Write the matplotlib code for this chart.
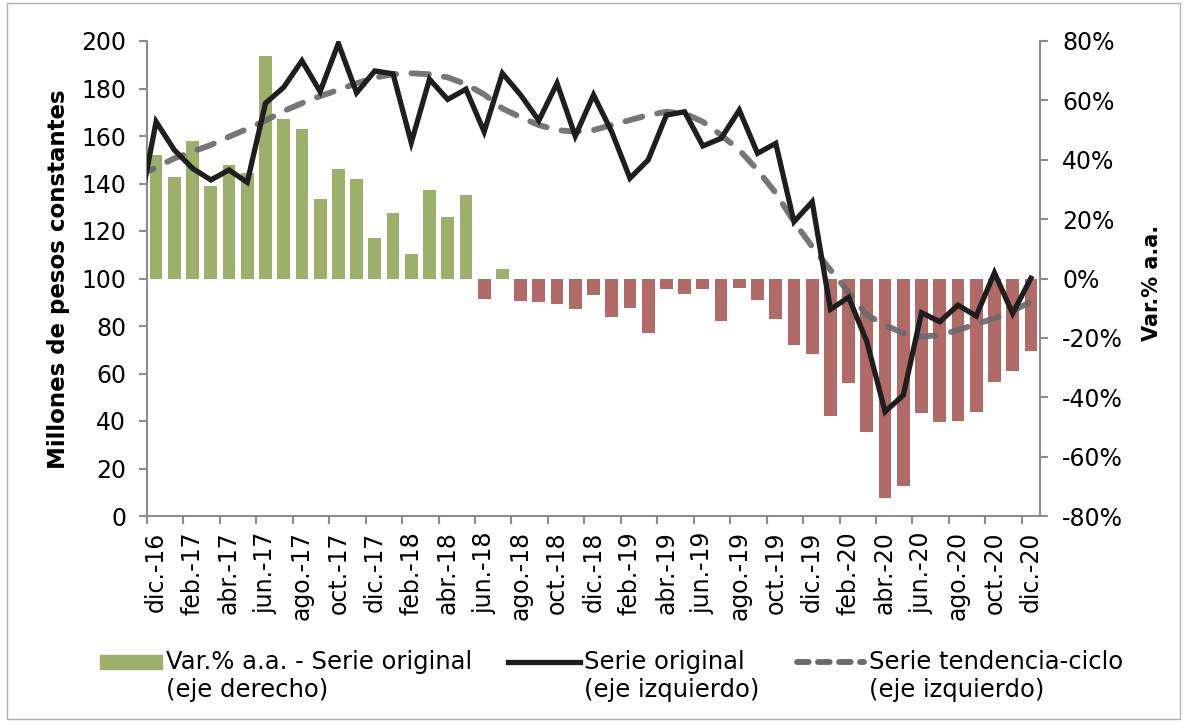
import matplotlib
matplotlib.use('Agg')
import matplotlib.pyplot as plt
import numpy as np
from matplotlib.lines import Line2D
from matplotlib.patches import Rectangle
from matplotlib.ticker import FuncFormatter

plt.rcParams['font.family'] = ['DejaVu Sans']

# ---------------- data ----------------
month_abbr = ['ene.', 'feb.', 'mar.', 'abr.', 'may.', 'jun.',
              'jul.', 'ago.', 'sep.', 'oct.', 'nov.', 'dic.']
categories = ['dic.-16'] + [f'{m}-{y}' for y in (17, 18, 19, 20) for m in month_abbr]

var_pct = [41.6, 34.2, 46.2, 31.3, 38.2, 35.4, 75.0, 53.7, 50.2, 26.7, 37.0, 33.4,
           13.5, 22.1, 8.3, 29.9, 20.6, 28.1, -6.8, 3.2, -7.5, -7.9, -8.5, -10.2,
           -5.4, -12.9, -9.8, -18.2, -3.4, -5.1, -3.4, -14.2, -3.1, -7.1, -13.5, -22.3,
           -25.3, -46.2, -35.1, -51.6, -73.8, -69.8, -45.2, -48.2, -47.9, -44.9, -34.8,
           -31.1, -24.3]

serie_original = [166.0, 154.1, 146.4, 141.5, 145.7, 140.5, 173.8, 180.5, 191.7, 178.7,
                  199.0, 178.2, 187.4, 186.2, 157.2, 183.9, 175.4, 179.7, 161.8, 186.4,
                  177.3, 166.5, 182.2, 160.0, 177.3, 161.8, 142.2, 149.9, 168.8, 170.2,
                  155.8, 159.0, 170.9, 152.7, 156.9, 123.9, 132.3, 87.0, 92.1, 73.4,
                  43.9, 50.9, 85.6, 81.8, 88.8, 84.2, 102.4, 85.3, 100.1]

serie_tendencia = [146.8, 150.6, 153.4, 156.2, 159.7, 163.0, 166.5, 170.5, 173.8, 176.8,
                   179.4, 182.2, 184.6, 186.0, 186.4, 186.0, 184.7, 181.8, 177.5, 171.6,
                   167.9, 164.6, 162.5, 161.8, 162.5, 164.6, 166.7, 168.8, 170.2, 169.5,
                   166.0, 160.4, 154.1, 145.7, 136.0, 123.9, 113.4, 103.6, 94.2, 84.6,
                   80.4, 76.9, 75.5, 76.2, 78.3, 80.8, 83.2, 86.3, 90.2]

# previous month (nov.-16), only its segment toward dic.-16 is visible at the axis edge
original_nov16 = 126.0
tendencia_nov16 = 143.0

# ---------------- figure ----------------
W, H = 1186, 724
fig = plt.figure(figsize=(W / 100, H / 100), dpi=100)
L, R, T, B = 147, 1040, 41, 516
ax = fig.add_axes([L / W, 1 - B / H, (R - L) / W, (B - T) / H])
ax2 = ax.twinx()

GREEN = '#9BB06B'
RED = '#B06A68'
SPINE = '#8C8C8C'
FS = 17

x = np.arange(len(categories))
colors = [GREEN if v >= 0 else RED for v in var_pct]
ax2.bar(x, var_pct, width=0.7, color=colors, zorder=1)

xl = np.arange(-1, len(categories))
ax.plot(xl, [tendencia_nov16] + serie_tendencia, color='#6A6A6A', lw=4.2,
        dashes=(3.0, 2.6), dash_capstyle='round', alpha=0.92, zorder=3)
ax.plot(xl, [original_nov16] + serie_original, color='#1E1E1E', lw=3.8,
        solid_joinstyle='miter', zorder=4)

ax.set_zorder(ax2.get_zorder() + 1)
ax.patch.set_visible(False)

ax.set_xlim(-0.5, len(categories) - 0.5)
ax.set_ylim(0, 200)
ax2.set_ylim(-80, 80)
ax.set_yticks(np.arange(0, 201, 20))
ax2.set_yticks(np.arange(-80, 81, 20))
ax2.yaxis.set_major_formatter(FuncFormatter(lambda v, p: f'{v:.0f}%'))

for s in ['top', 'right']:
    ax.spines[s].set_visible(False)
for s in ['top', 'left', 'bottom']:
    ax2.spines[s].set_visible(False)
for a, s in [(ax, 'left'), (ax, 'bottom'), (ax2, 'right')]:
    a.spines[s].set_color(SPINE)
    a.spines[s].set_linewidth(1.5)

ax.tick_params(axis='y', direction='out', length=6, width=1.5, color=SPINE,
               labelsize=FS, pad=9)
ax2.tick_params(axis='y', direction='out', length=6, width=1.5, color=SPINE,
                labelsize=FS, pad=10)

ax.set_xticks(np.arange(-0.5, len(categories) - 1, 2))
ax.set_xticklabels([])
ax.tick_params(axis='x', which='major', direction='out', length=6, width=1.5, color=SPINE)
ax.set_xticks(x[::2], minor=True)
ax.set_xticklabels(categories[::2], minor=True, rotation=90, fontsize=FS,
                   ha='center', va='top')
ax.tick_params(axis='x', which='minor', length=0, pad=11)

fig.text(59 / W, 1 - 279 / H, 'Millones de pesos constantes', rotation=90,
         ha='center', va='center', fontsize=16.5, fontweight='bold')
fig.text(1152 / W, 1 - 283 / H, 'Var.% a.a.', rotation=90,
         ha='center', va='center', fontsize=15, fontweight='bold')

# ---------------- legend ----------------
def fx(px):
    return px / W

def fy(py):
    return 1 - py / H

y1, y2 = 662, 690
LFS = 17.5
fig.patches.append(Rectangle((fx(100), fy(669)), fx(162) - fx(100), fy(655) - fy(669),
                             transform=fig.transFigure, color=GREEN))
fig.lines.append(Line2D([fx(508), fx(580)], [fy(y1), fy(y1)], transform=fig.transFigure,
                        color='#1E1E1E', lw=3.8))
fig.lines.append(Line2D([fx(797), fx(864)], [fy(y1), fy(y1)], transform=fig.transFigure,
                        color='#6A6A6A', lw=4.2, dashes=(2.0, 1.6), dash_capstyle='round'))
for xp, t1, t2 in [(166, 'Var.% a.a. - Serie original', '(eje derecho)'),
                   (584, 'Serie original', '(eje izquierdo)'),
                   (869, 'Serie tendencia-ciclo', '(eje izquierdo)')]:
    fig.text(fx(xp), fy(y1), t1, ha='left', va='center', fontsize=LFS)
    fig.text(fx(xp), fy(y2), t2, ha='left', va='center', fontsize=LFS)

fig.patches.append(Rectangle((fx(7), fy(719)), fx(1180) - fx(7), fy(3) - fy(719),
                             transform=fig.transFigure, fill=False,
                             edgecolor='#B0B0B0', lw=1.0))

fig.savefig('out.png', dpi=100)
